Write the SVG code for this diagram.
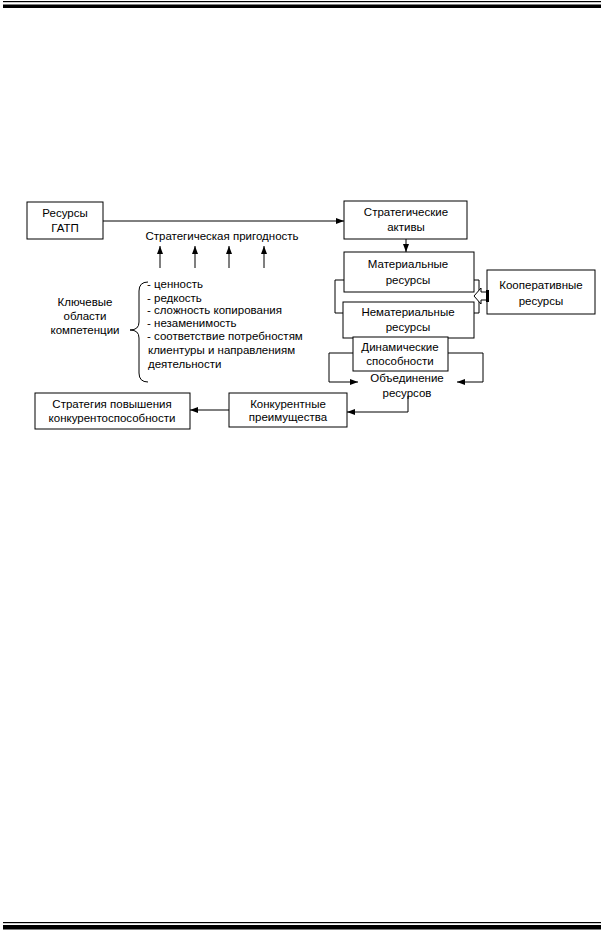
<svg xmlns="http://www.w3.org/2000/svg" width="604" height="931" viewBox="0 0 604 931">
<style>
.box{fill:#fff;stroke:#000;stroke-width:1}
.ln{fill:none;stroke:#000;stroke-width:1}
text{font-family:"Liberation Sans",Arial,sans-serif;font-size:11.5px;fill:#000}
.c{text-anchor:middle}
</style>
<defs>
<marker id="ar" viewBox="0 0 8 6" refX="8" refY="3" markerWidth="8" markerHeight="6" markerUnits="userSpaceOnUse" orient="auto">
<path d="M0,0 L8,3 L0,6 Z" fill="#000"/>
</marker>
</defs>
<g id="rules">
<rect x="3" y="1" width="598" height="1.2" fill="#000"/>
<rect x="3" y="4.5" width="598" height="3.5" fill="#000"/>
<rect x="3" y="922" width="598" height="1.2" fill="#000"/>
<rect x="3" y="925" width="598" height="4.5" fill="#000"/>
</g>
<g id="connectors">
<line class="ln" x1="103" y1="221" x2="344" y2="221" marker-end="url(#ar)"/>
<line class="ln" x1="406" y1="239" x2="406" y2="252" marker-end="url(#ar)"/>
<line class="ln" x1="160" y1="268" x2="160" y2="246" marker-end="url(#ar)"/>
<line class="ln" x1="195" y1="268" x2="195" y2="246" marker-end="url(#ar)"/>
<line class="ln" x1="229" y1="268" x2="229" y2="246" marker-end="url(#ar)"/>
<line class="ln" x1="264" y1="268" x2="264" y2="246" marker-end="url(#ar)"/>
<path class="ln" d="M344,280 H335 V313 H344"/>
<path class="ln" d="M474,280 H479 V313 H474"/>
<path class="ln" d="M353,353 H329 V382 H358" marker-end="url(#ar)"/>
<path class="ln" d="M448,353 H483 V382 H457" marker-end="url(#ar)"/>
<path class="ln" d="M408,396 V412 H347" marker-end="url(#ar)"/>
<line class="ln" x1="229" y1="410" x2="190" y2="410" marker-end="url(#ar)"/>
<path class="ln" d="M148,282 Q139,282 139,291 V322 Q139,330 130,330 Q139,330 139,338 V373 Q139,382 148,382"/>
</g>
<g id="n-resursy">
<rect class="box" x="27" y="202" width="76" height="37"/>
<text class="c" x="65" y="217">Ресурсы</text>
<text class="c" x="65" y="232">ГАТП</text>
</g>
<g id="n-prigodnost">
<text class="c" x="222" y="240">Стратегическая пригодность</text>
</g>
<g id="n-aktivy">
<rect class="box" x="344" y="201" width="123" height="38"/>
<text class="c" x="406" y="216">Стратегические</text>
<text class="c" x="406" y="231">активы</text>
</g>
<g id="n-material">
<rect class="box" x="344" y="252" width="130" height="40"/>
<text class="c" x="408" y="268">Материальные</text>
<text class="c" x="408" y="284">ресурсы</text>
</g>
<g id="n-nematerial">
<rect class="box" x="343" y="302" width="131" height="36"/>
<text class="c" x="408" y="316">Нематериальные</text>
<text class="c" x="408" y="331">ресурсы</text>
</g>
<g id="n-koop">
<rect class="box" x="487" y="270" width="108" height="44"/>
<text class="c" x="541" y="289">Кооперативные</text>
<text class="c" x="541" y="305">ресурсы</text>
<polygon points="474,296 481,288 481,292 488,292 488,300 481,300 481,304" fill="#fff" stroke="#000" stroke-width="1"/>
<rect x="486" y="290" width="3" height="12" fill="#000"/>
</g>
<g id="n-dinam">
<rect class="box" x="353" y="337" width="95" height="34"/>
<text class="c" x="400" y="351">Динамические</text>
<text class="c" x="400" y="365">способности</text>
</g>
<g id="n-obied">
<text class="c" x="407" y="382">Объединение</text>
<text class="c" x="407" y="397">ресурсов</text>
</g>
<g id="n-konk">
<rect class="box" x="229" y="393" width="118" height="34"/>
<text class="c" x="288" y="408">Конкурентные</text>
<text class="c" x="288" y="421">преимущества</text>
</g>
<g id="n-strat">
<rect class="box" x="35" y="393" width="155" height="36"/>
<text class="c" x="112" y="408">Стратегия повышения</text>
<text class="c" x="112" y="422">конкурентоспособности</text>
</g>
<g id="n-kluch">
<text class="c" x="85" y="306">Ключевые</text>
<text class="c" x="85" y="320">области</text>
<text class="c" x="85" y="334">компетенции</text>
</g>
<g id="n-list">
<text x="147" y="288">- ценность</text>
<text x="147" y="301.5">- редкость</text>
<text x="147" y="314">- сложность копирования</text>
<text x="147" y="326.5">- незаменимость</text>
<text x="147" y="340">- соответствие потребностям</text>
<text x="148" y="354">клиентуры и направлениям</text>
<text x="148" y="368">деятельности</text>
</g>
</svg>
